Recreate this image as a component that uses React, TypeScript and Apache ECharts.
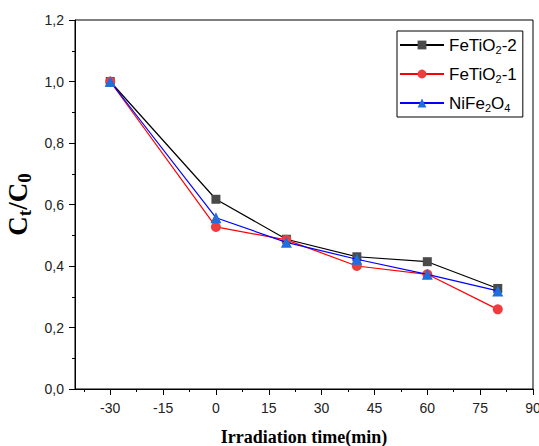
import React, { useEffect, useRef } from "react";
import * as echarts from "echarts";

const timePoints = [-30, 0, 20, 40, 60, 80];
const fetio2_2 = [1.0, 0.617, 0.487, 0.43, 0.414, 0.327];
const fetio2_1 = [1.0, 0.527, 0.485, 0.4, 0.373, 0.259];
const nife2o4 = [1.0, 0.557, 0.477, 0.422, 0.373, 0.319];
const xMajorTicks = [-30, -15, 0, 15, 30, 45, 60, 75, 90];
const xMinorTicks = [-37.5, -22.5, -7.5, 7.5, 22.5, 37.5, 52.5, 67.5, 82.5];
const seriesNames = ["FeTiO2-2", "FeTiO2-1", "NiFe2O4"];
const legendLabels: Record<string, string> = {
  "FeTiO2-2": "FeTiO{sub|2}-2",
  "FeTiO2-1": "FeTiO{sub|2}-1",
  "NiFe2O4": "NiFe{sub|2}O{sub|4}",
};

function pairs(ys: number[]) {
  return timePoints.map((x, i) => [x, ys[i]]);
}

export default function App() {
  const ref = useRef<HTMLDivElement>(null);
  useEffect(() => {
    if (!ref.current) return;
    const chart = echarts.init(ref.current, undefined, { renderer: "svg" });
    const axisFont = { fontFamily: "Arial, 'Liberation Sans', sans-serif", fontSize: 14, color: "#222" };
    chart.setOption({
      animation: false,
      backgroundColor: "#fff",
      grid: {
        left: 75, right: 6, top: 20, bottom: 57,
        containLabel: false, outerBoundsMode: "none",
        show: true, borderColor: "#000", borderWidth: 1,
      },
      legend: {
        orient: "vertical",
        left: 397,
        top: 31,
        padding: [4, 6, 4, 2],
        itemWidth: 44,
        itemHeight: 11,
        itemGap: 9,
        borderColor: "#000",
        borderWidth: 1,
        data: seriesNames,
        formatter: (n: string) => legendLabels[n] || n,
        textStyle: {
          fontFamily: "Arial, 'Liberation Sans', sans-serif",
          fontSize: 17,
          color: "#000",
          lineHeight: 20,
          rich: {
            sub: { fontSize: 11, lineHeight: 11, verticalAlign: "bottom", fontFamily: "Arial, 'Liberation Sans', sans-serif", color: "#000" },
          },
        },
      },
      xAxis: [
        {
          type: "value",
          min: -40,
          max: 90,
          name: "Irradiation time(min)",
          nameLocation: "middle",
          nameGap: 39,
          nameTextStyle: { fontFamily: "'Liberation Serif', 'Times New Roman', serif", fontWeight: "bold", fontSize: 18, color: "#000" },
          axisLine: { show: true, onZero: false, lineStyle: { color: "#000", width: 1 } },
          axisTick: { show: true, inside: false, length: 6, customValues: xMajorTicks, lineStyle: { color: "#000" } },
          axisLabel: { ...axisFont, margin: 12, customValues: xMajorTicks },
          splitLine: { show: false },
        },
        {
          type: "value",
          min: -40,
          max: 90,
          position: "bottom",
          axisLine: { show: false, onZero: false },
          axisTick: { show: true, inside: false, length: 3, customValues: xMinorTicks, lineStyle: { color: "#000" } },
          axisLabel: { show: false, customValues: xMinorTicks },
          splitLine: { show: false },
        },
      ],
      yAxis: {
        type: "value",
        min: 0,
        max: 1.2,
        interval: 0.2,
        position: "left",
        name: "C{sub|t}/C{sub|0}",
        nameLocation: "middle",
        nameGap: 40,
        nameRotate: 90,
        nameTextStyle: {
          fontFamily: "'Liberation Serif', 'Times New Roman', serif",
          fontWeight: "bold",
          fontSize: 27,
          color: "#000",
          lineHeight: 31,
          rich: {
            sub: { fontFamily: "'Liberation Serif', 'Times New Roman', serif", fontWeight: "bold", fontSize: 19, lineHeight: 19, verticalAlign: "bottom", color: "#000" },
          },
        },
        axisLine: { show: true, onZero: false, lineStyle: { color: "#000", width: 1 } },
        axisTick: { show: true, inside: false, length: 6, lineStyle: { color: "#000" } },
        minorTick: { show: true, splitNumber: 2, length: 3, lineStyle: { color: "#000" } },
        axisLabel: { ...axisFont, margin: 11, formatter: (v: number) => v.toFixed(1).replace(".", ",") },
        splitLine: { show: false },
      },
      series: [
        {
          name: "FeTiO2-2",
          type: "line",
          data: pairs(fetio2_2),
          symbol: "rect",
          symbolSize: 9,
          itemStyle: { color: "#4a4a4a" },
          lineStyle: { color: "#000", width: 1.2 },
          z: 2,
        },
        {
          name: "FeTiO2-1",
          type: "line",
          data: pairs(fetio2_1),
          symbol: "circle",
          symbolSize: 10,
          itemStyle: { color: "#f03c3c" },
          lineStyle: { color: "#ff0000", width: 1.2 },
          z: 3,
        },
        {
          name: "NiFe2O4",
          type: "line",
          data: pairs(nife2o4),
          symbol: "triangle",
          symbolSize: 11,
          itemStyle: { color: "#1f6fdc" },
          lineStyle: { color: "#0000ff", width: 1.2 },
          z: 4,
        },
      ],
    });
    return () => chart.dispose();
  }, []);
  return <div ref={ref} style={{ position: "fixed", left: 0, top: 0, width: 539, height: 446 }} />;
}
